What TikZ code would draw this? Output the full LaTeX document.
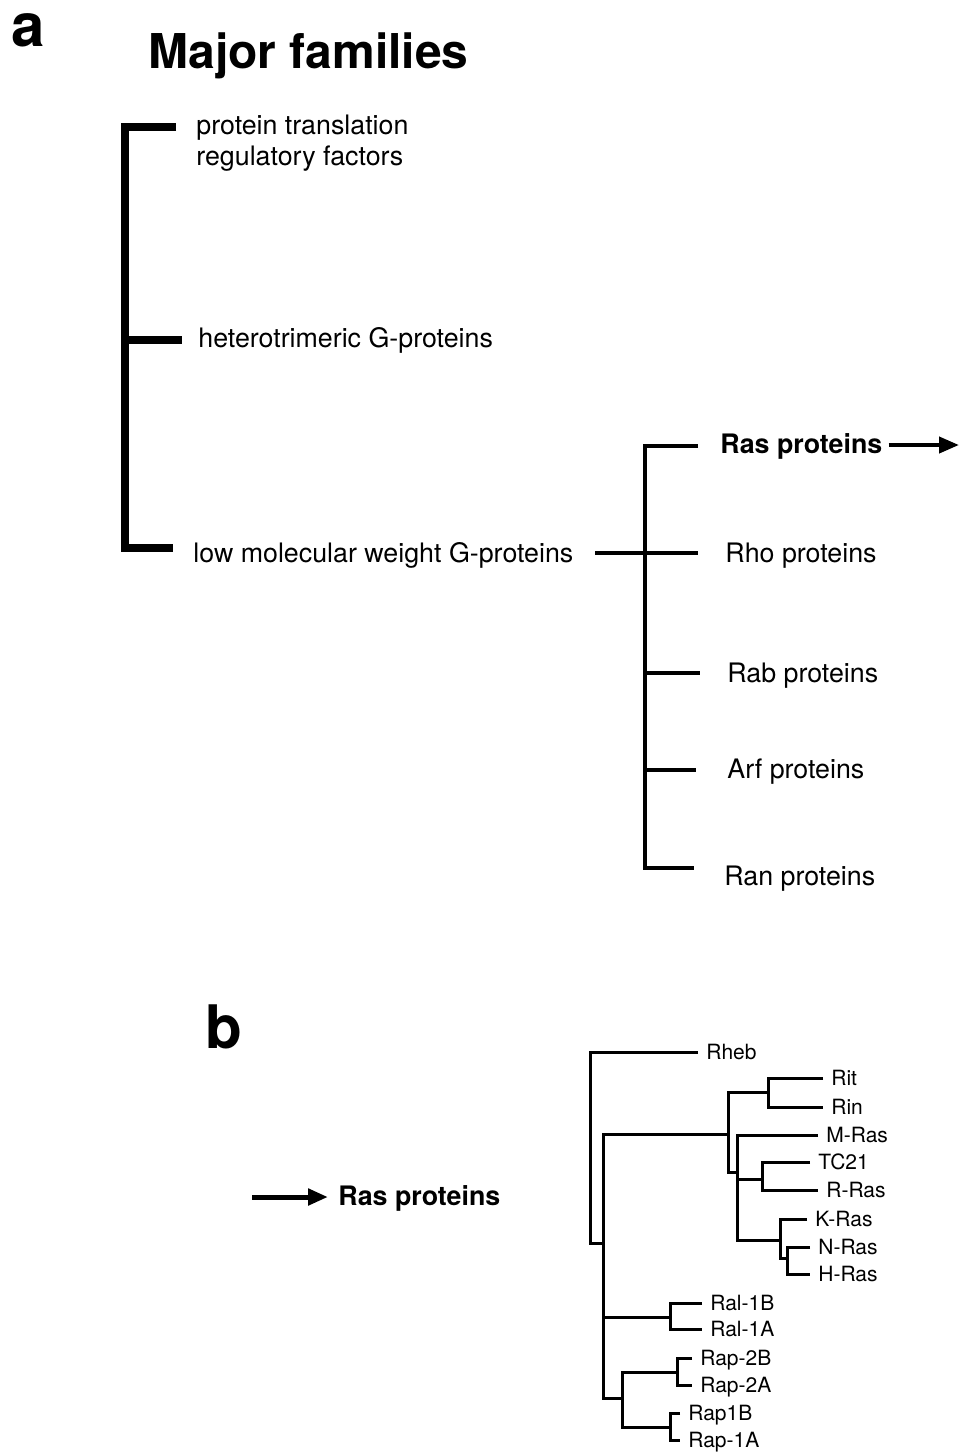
\documentclass[tikz,border=0pt]{standalone}
\usepackage{fontspec}
\setmainfont{TeX Gyre Heros}
\usetikzlibrary{arrows.meta,positioning}

\tikzset{
  major/.style={line width=4pt},
  minor/.style={line width=2.4pt},
  br/.style={line width=1.5pt},
  fam/.style={font=\fontsize{13.4}{16}\selectfont, inner sep=0pt, anchor=base west},
  famb/.style={fam, font=\fontsize{13.4}{16}\selectfont\bfseries},
  leaf/.style={font=\fontsize{10.5}{12}\selectfont, inner sep=0pt, text height=7.5pt, text depth=0pt},
  panel/.style={font=\fontsize{30}{34}\selectfont\bfseries, inner sep=0pt, anchor=base west},
  toarrow/.style={line width=2pt, -{Triangle[length=10pt,width=8pt]}},
}

\begin{document}
\begin{tikzpicture}[x=0.5pt,y=-0.5pt]
\useasboundingbox (0,0) rectangle (959,1453);
% panel a
\node[panel, text height=17pt] (pa) at (11,46) {a};
\node[fam, font=\fontsize{24}{28}\selectfont\bfseries] (title) at (148,68) {Major families};

\node[fam] (ptr) at (196,134) {protein translation};
\node[fam] (reg) at (196,165) {regulatory factors};
\node[fam] (het) at (198,347) {heterotrimeric G-proteins};
\node[fam] (low) at (193,562) {low molecular weight G-proteins};

\coordinate (e1) at (176,127); \coordinate (e2) at (182,340);
\coordinate (e3) at (173,548); \coordinate (k) at (125,340);
\draw[major] (e1) -| (k) |- (e3);
\draw[major] (k) -- (e2);

\node[famb] (ras) at (720,453) {Ras proteins};
\node[fam] (rho) at (725,562) {Rho proteins};
\node[fam] (rab) at (727,682) {Rab proteins};
\node[fam] (arf) at (727,778) {Arf proteins};
\node[fam] (ran) at (724,885) {Ran proteins};

\coordinate (f1) at (698,446); \coordinate (f2) at (698,553);
\coordinate (f3) at (700,673); \coordinate (f4) at (696,770);
\coordinate (f5) at (694,868); \coordinate (q) at (645,660);
\coordinate (lin) at (595,553);
\draw[minor] (f1) -| (q) |- (f5);
\draw[minor] (lin) -- (f2);
\draw[minor] (q |- f3) -- (f3);
\draw[minor] (q |- f4) -- (f4);

\coordinate (aend) at (959,445);
\draw[toarrow] ([xshift=3pt]ras.east |- aend) -- (aend);

% panel b
\node[panel] (pb) at (205,1048) {b};
\node[famb] (ras2) at (338,1205) {Ras proteins};
\coordinate (bst) at (252,1197);
\draw[toarrow, line width=2.5pt] (bst) -- ([xshift=-5pt]ras2.west |- bst);

% tree leaves
\foreach \n/\x/\y in {Rheb/698/1052, Rit/823/1078, Rin/823/1107, M-Ras/818/1135,
  TC21/810/1162, R-Ras/818/1190, K-Ras/807/1219, N-Ras/810/1247, H-Ras/810/1274,
  Ral-1B/702/1303, Ral-1A/702/1329, Rap-2B/692/1358, Rap-2A/692/1385,
  Rap1B/680/1413, Rap-1A/680/1440}{
  \coordinate (t\n) at (\x,\y);
  \node[leaf, right=4pt of t\n] (\n) {\n};
}

% inner nodes
\coordinate (c0) at (590,1150);
\coordinate (c1) at (603,1243);
\coordinate (c2) at (728,1134);
\coordinate (c3) at (768,1092);
\coordinate (c4) at (737,1172);
\coordinate (c5) at (762,1179);
\coordinate (c6) at (780,1240);
\coordinate (c7) at (787,1258);
\coordinate (c8) at (670,1317);
\coordinate (c9) at (622,1398);
\coordinate (c10) at (677,1372);
\coordinate (c11) at (670,1427);

\draw[br] (tRit) -| (c3) |- (tRin);
\draw[br] (tTC21) -| (c5) |- (tR-Ras);
\draw[br] (tN-Ras) -| (c7) |- (tH-Ras);
\draw[br] (tK-Ras) -| (c6) |- (c7);
\draw[br] (tM-Ras) -| (c4) |- (c6);
\draw[br] (c5) -- (c4 |- c5);
\draw[br] (c3) -| (c2) |- (c4);
\draw[br] (tRal-1B) -| (c8) |- (tRal-1A);
\draw[br] (tRap-2B) -| (c10) |- (tRap-2A);
\draw[br] (tRap1B) -| (c11) |- (tRap-1A);
\draw[br] (c10) -| (c9) |- (c11);
\draw[br] (c2) -| (c1) |- (c9);
\draw[br] (c8) -- (c1 |- c8);
\draw[br] (tRheb) -| (c0) |- (c1);
\end{tikzpicture}
\end{document}
